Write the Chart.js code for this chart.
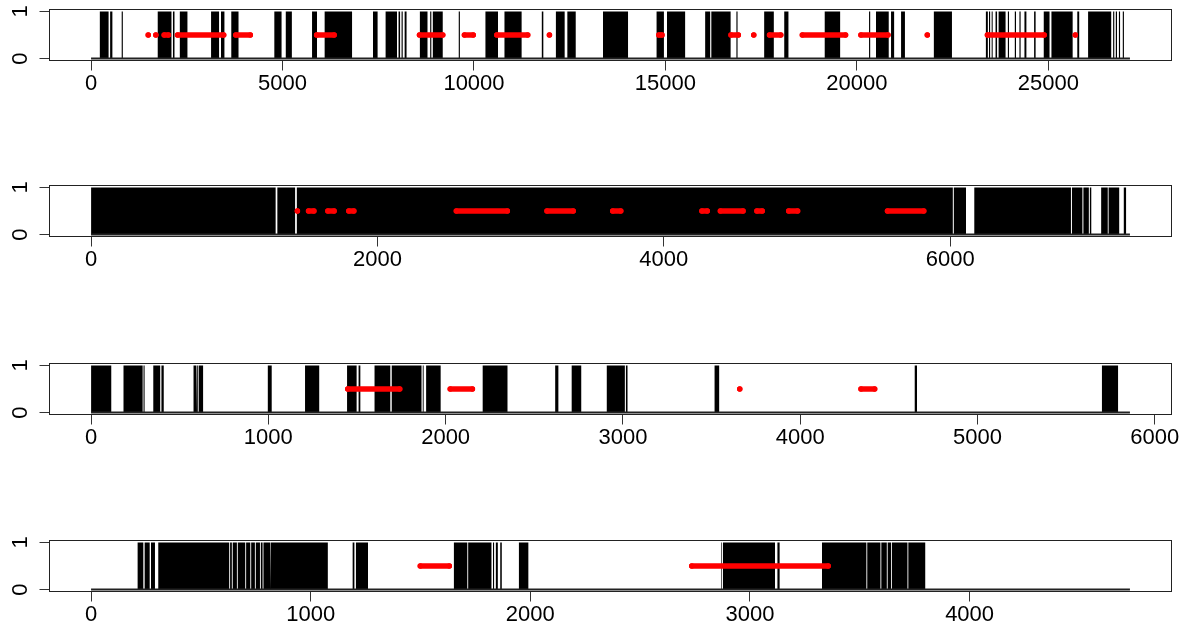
<!DOCTYPE html>
<html><head><meta charset="utf-8">
<script src="https://cdn.jsdelivr.net/npm/chart.js@4.4.0/dist/chart.umd.min.js"></script>
<style>
html,body{margin:0;padding:0;background:#fff;width:1185px;height:630px;overflow:hidden;position:relative;}
.panel{position:absolute;left:0;width:1185px;height:110px;}
canvas{display:block;}
</style></head><body>
<div class="panel" style="top:0px"><canvas id="c1" width="1185" height="110"></canvas></div>
<div class="panel" style="top:176px"><canvas id="c2" width="1185" height="110"></canvas></div>
<div class="panel" style="top:354px"><canvas id="c3" width="1185" height="110"></canvas></div>
<div class="panel" style="top:531px"><canvas id="c4" width="1185" height="110"></canvas></div>
<script>
// ---------- data ----------
const yTicks = [0, 1];
const redLevel = 0.5;

// panel 1
const p1Span = [0, 27130];
const p1Ticks = [0, 5000, 10000, 15000, 20000, 25000];
const p1Black = [[229,458],[498,557],[800,830],[1741,2100],[2139,2179],[2318,2517],[3134,3343],[3393,3483],[3662,3851],[4786,4975],[5085,5244],[5771,5900],[6100,6816],[7363,7483],[7692,7990],[8030,8070],[8109,8139],[8189,8239],[8587,8786],[8856,8886],[8925,9184],[9602,9632],[10299,10627],[10796,11244],[11771,11811],[12139,12368],[12438,12657],[13369,14023],[14768,14960],[15040,15514],[16037,16168],[16198,16702],[16853,16883],[17578,17830],[18102,18212],[19159,19562],[20317,20347],[20498,20831],[20891,20972],[21153,21254],[22009,22482],[23368,23419],[23449,23479],[23519,23545],[23620,23660],[23700,23882],[23942,23972],[24123,24154],[24244,24275],[24375,24426],[24627,24667],[24879,25030],[25080,25634],[25755,25805],[26037,26641],[26691,26721],[26761,26792],[26842,26872],[26943,26973]];
const p1Red = [[1493,1493],[1692,1692],[1910,2020],[2259,3463],[3781,4159],[5891,6348],[8577,9184],[9751,9980],[10597,11403],[11970,11970],[14829,14909],[16712,16903],[17306,17306],[17719,18011],[18575,19703],[20105,20810],[21838,21838],[23409,24889],[25704,25704]];

// panel 2
const p2Span = [0, 7255];
const p2Ticks = [0, 2000, 4000, 6000];
const p2Black = [[0,1289],[1301,1425],[1437,6018],[6025,6110],[6168,6843],[6850,6923],[6930,6968],[6975,6985],[7054,7100],[7106,7180],[7212,7228]];
const p2Red = [[1441,1441],[1519,1556],[1654,1697],[1800,1835],[2551,2907],[3184,3367],[3643,3699],[4266,4303],[4395,4553],[4650,4687],[4872,4934],[5562,5815]];

// panel 3
const p3Span = [0, 5860];
const p3Ticks = [0, 1000, 2000, 3000, 4000, 5000, 6000];
const p3Black = [[0,114],[183,291],[296,302],[351,390],[397,410],[578,592],[597,602],[607,632],[997,1019],[1207,1287],[1444,1498],[1509,1519],[1599,1688],[1696,1864],[1871,1876],[1890,1972],[2209,2349],[2618,2636],[2711,2765],[2909,3011],[3017,3026],[3517,3543],[4646,4659],[5702,5793]];
const p3Red = [[1448,1741],[2026,2151],[3659,3659],[4343,4420]];

// panel 4
const p4Span = [0, 4730];
const p4Ticks = [0, 1000, 2000, 3000, 4000];
const p4Black = [[212,238],[244,267],[273,291],[297,300],[306,629],[633,641],[645,664],[668,702],[706,725],[729,746],[750,769],[773,781],[785,815],[819,1078],[1191,1199],[1206,1261],[1652,1713],[1717,1823],[1830,1835],[1843,1852],[1863,1870],[1948,1991],[2868,2871],[2877,3114],[3125,3135],[3328,3530],[3534,3594],[3598,3623],[3627,3642],[3646,3717],[3721,3798]];
const p4Red = [[1499,1631],[2735,3356]];

// ---------- helpers ----------
const FONT = '"Liberation Sans", Arial, sans-serif';
const FSIZE = 22;

function blackPoints(intervals, span) {
  const pts = [{x: span[0], y: 0}];
  for (const [s, e] of intervals) {
    pts.push({x: s, y: 0}, {x: s, y: 1}, {x: e, y: 1}, {x: e, y: 0});
  }
  pts.push({x: span[1], y: 0});
  return pts;
}
function redPoints(runs) {
  const pts = [];
  for (const [s, e] of runs) {
    pts.push({x: s, y: redLevel});
    if (e !== s) pts.push({x: e, y: redLevel});
    pts.push({x: e, y: null});
  }
  return pts;
}

const framePlugin = {
  id: 'frame',
  afterDatasetsDraw(chart) {
    const {ctx, chartArea: a} = chart;
    ctx.save();
    ctx.strokeStyle = '#222';
    ctx.lineWidth = 1;
    ctx.strokeRect(a.left, a.top, a.right - a.left, a.bottom - a.top);
    ctx.restore();
  },
  afterDraw(chart) {
    const {ctx} = chart;
    const ys = chart.scales.y;
    ctx.save();
    ctx.fillStyle = '#000';
    ctx.font = FSIZE + 'px ' + FONT;
    ctx.textAlign = 'center';
    ctx.textBaseline = 'middle';
    for (const v of yTicks) {
      const py = ys.getPixelForValue(v);
      ctx.save();
      ctx.translate(20.5, py);
      ctx.rotate(-Math.PI / 2);
      ctx.fillText(String(v), 0, 0);
      ctx.restore();
    }
    ctx.restore();
  }
};

function makePanel(id, span, ticks, black, red) {
  const d = span[1] - span[0];
  const xmin = span[0] - 0.04 * d, xmax = span[1] + 0.04 * d;
  new Chart(document.getElementById(id), {
    type: 'line',
    data: {
      datasets: [
        {
          data: redPoints(red), order: 0,
          borderColor: '#ff0000', borderWidth: 5.5, borderCapStyle: 'round',
          pointRadius: 2.75, pointBackgroundColor: '#ff0000', pointBorderWidth: 0,
          spanGaps: false, fill: false, tension: 0
        },
        {
          data: [{x: span[0], y: 0}, {x: span[1], y: 0}], order: 1,
          borderColor: '#222', borderWidth: 2, pointRadius: 0, fill: false, tension: 0
        },
        {
          data: blackPoints(black, span), order: 2,
          borderColor: 'rgba(0,0,0,0)', borderWidth: 0, backgroundColor: '#000',
          fill: 'origin', pointRadius: 0, tension: 0
        }
      ]
    },
    options: {
      responsive: false, animation: false, events: [],
      layout: {padding: {left: 0, right: 13.5, top: 9.5, bottom: 0}},
      plugins: {legend: {display: false}, tooltip: {enabled: false}},
      scales: {
        x: {
          type: 'linear', min: xmin, max: xmax,
          afterBuildTicks: s => { s.ticks = ticks.map(v => ({value: v})); },
          afterFit: s => { s.height = 49.5; },
          grid: {drawOnChartArea: false, drawTicks: true, tickLength: 10, color: '#333', lineWidth: 1},
          border: {display: false},
          ticks: {
            autoSkip: false, maxRotation: 0, minRotation: 0, padding: 0,
            color: '#000', font: {family: FONT, size: FSIZE},
            callback: v => String(v)
          }
        },
        y: {
          type: 'linear', min: -0.04, max: 1.04,
          afterBuildTicks: s => { s.ticks = yTicks.map(v => ({value: v})); },
          afterFit: s => { s.width = 49.5; },
          grid: {drawOnChartArea: false, drawTicks: true, tickLength: 10, color: '#333', lineWidth: 1},
          border: {display: false},
          ticks: {display: false}
        }
      }
    },
    plugins: [framePlugin]
  });
}

makePanel('c1', p1Span, p1Ticks, p1Black, p1Red);
makePanel('c2', p2Span, p2Ticks, p2Black, p2Red);
makePanel('c3', p3Span, p3Ticks, p3Black, p3Red);
makePanel('c4', p4Span, p4Ticks, p4Black, p4Red);
</script>
</body></html>
